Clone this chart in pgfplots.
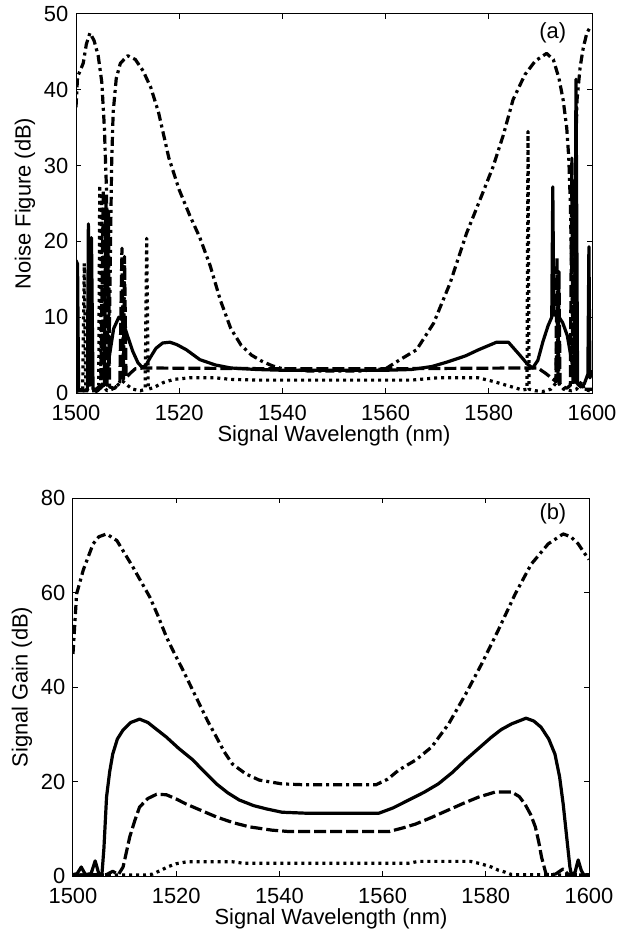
\documentclass[border=0pt,11pt]{standalone}
\usepackage{fontspec}
\setmainfont{Liberation Sans}
\usepackage{pgfplots}
\pgfplotsset{compat=1.18}

\pgfplotsset{
  mfig/.style={
    scale only axis, width=258pt,
    xmin=1500, xmax=1600, xtick={1500,1520,...,1600},
    tick align=inside, major tick length=2.5pt,
    axis line style={line width=0.5pt},
    every tick/.style={black, line width=0.5pt},
    /pgf/number format/assume math mode=true,
    xticklabel style={/pgf/number format/1000 sep={}, inner sep=0pt, yshift=-6pt},
    yticklabel style={inner sep=0pt, xshift=-3.7pt},
    xlabel={Signal Wavelength (nm)},
    xlabel style={at={(axis description cs:0.5,0)}, anchor=base, inner sep=0pt, yshift=-24pt},
    ylabel style={at={(axis description cs:-0.099,0.5)}, anchor=center},
    every axis plot/.append style={black, line width=1.6pt, line join=round},
  },
  sol/.style={solid},
  dsh/.style={dash pattern=on 6pt off 2pt},
  dot/.style={dash pattern=on 1.5pt off 2pt},
  dd/.style={dash pattern=on 4.5pt off 2pt on 1.5pt off 2pt},
}

\begin{document}
\begin{tikzpicture}
\useasboundingbox (0,0) rectangle (313.5pt,-465pt);

% (a) noise figure
\begin{axis}[mfig, at={(38pt,-196.5pt)}, anchor=south west, height=189.5pt,
  ymin=0, ymax=50, ytick={0,10,...,50}, ylabel={Noise Figure (dB)}]
\addplot[sol] coordinates {
(1500.0,17.5) (1500.3,17.0) (1500.5,0.5) (1501.5,0.3) (1502.2,0.5) (1502.4,22.3)
(1502.7,1.0) (1503.0,20.5) (1503.3,0.5) (1504.0,0.2) (1505.0,0.8) (1505.8,1.5)
(1506.5,5.0) (1507.3,8.5) (1508.3,10.0) (1509.0,9.6) (1510.0,7.5) (1511.0,5.5)
(1512.0,4.0) (1512.8,3.4) (1513.5,3.6) (1514.5,4.8) (1515.5,5.9) (1516.8,6.6)
(1518.2,6.7) (1519.5,6.4) (1521.4,5.7) (1524,4.4) (1527,3.7) (1530,3.3)
(1535,3.1) (1540,3.0) (1560,3.0) (1565,3.1) (1569,3.5) (1572,4.1) (1575.5,4.9)
(1578,5.7) (1581.5,6.7) (1583.8,6.7) (1586,5.0) (1587.5,3.8) (1588.5,3.3)
(1589.5,4.3) (1590.5,6.8) (1591.5,8.9) (1592.2,10.0) (1592.4,27.2) (1592.6,10.3)
(1593.3,10.3) (1594.3,9.3) (1595.2,7.6) (1596,4.5) (1596.6,2.0) (1596.9,41.4)
(1597.2,1.5) (1597.8,0.8) (1598.5,1.2) (1599.2,2.5) (1599.4,19.3) (1599.6,2.0)
(1600,3.0)};
\addplot[dsh] coordinates {
(1500,0.3) (1503.5,0.3) (1504.8,1.0) (1505.3,26.8) (1505.5,1.0) (1505.8,25.5)
(1506.0,1.0) (1506.3,24.0) (1506.5,0.8) (1507.5,0.6) (1508.5,1.5) (1508.9,19.1)
(1509.2,1.8) (1509.4,18.0) (1509.7,2.0) (1510.5,2.6) (1511.5,3.2) (1513,3.3)
(1540,3.2) (1560,3.2) (1586,3.3) (1589.5,3.3) (1591,2.6) (1592.5,1.8) (1593.0,1.5)
(1593.2,17.8) (1593.4,1.4) (1593.6,16.0) (1593.8,1.2) (1595,0.6) (1595.8,1.0)
(1596.1,31.0) (1596.3,1.0) (1596.6,28.0) (1596.8,1.5) (1597.5,1.0) (1598.5,0.5)
(1600,0.5)};
\addplot[dot] coordinates {
(1500,0.2) (1501.3,0.5) (1501.6,17.1) (1501.9,0.5) (1502.5,0.3) (1503.5,0.5)
(1504.4,1.0) (1504.6,27.4) (1504.8,1.0) (1505.0,26.0) (1505.2,1.0) (1506,0.3)
(1507,0.5) (1508,1.0) (1509,1.6) (1510,1.0) (1511,0.5) (1512.5,0.3) (1513.4,0.5)
(1513.7,20.4) (1514.0,0.5) (1515,0.7) (1517,1.4) (1519,1.8) (1522,2.0) (1527,2.0)
(1530,1.8) (1535,1.7) (1565,1.7) (1570,2.0) (1578,2.0) (1581,1.5) (1584,0.9)
(1586.5,0.4) (1587.4,0.5) (1587.6,34.5) (1587.8,0.5) (1589,0.3) (1590.5,0.2)
(1592,0.5) (1593,1.3) (1593.4,15.0) (1593.6,1.2) (1594.5,0.5) (1596,0.3)
(1597,0.5) (1598,1.5) (1598.5,0.5) (1600,0.2)};
\addplot[dd] coordinates {
(1500,37.7) (1500.3,41.7) (1501.4,43.5) (1502,46.0) (1502.7,47.5) (1503.5,46.5)
(1504.3,44.5) (1505.0,41.0) (1505.5,35.0) (1505.9,27.0) (1506.2,12.0) (1506.4,3.0)
(1506.6,15.0) (1506.9,30.0) (1507.2,37.0) (1507.8,41.5) (1508.6,43.5) (1510,44.5)
(1511.5,44.0) (1513,42.5) (1514.5,40.3) (1516,37.0) (1518,31.0) (1520,26.8)
(1522,23.5) (1524,20.5) (1526,16.8) (1528,12.2) (1530,8.5) (1532,6.3) (1534,5.0)
(1536,4.2) (1538,3.6) (1540,3.2) (1545,2.9) (1555,2.9) (1560,3.2) (1562.8,4.4)
(1566,5.7) (1569.3,9.2) (1572.5,14.5) (1575.7,21.1) (1578.3,25.5) (1580.8,29.8)
(1582.8,34.0) (1584.7,38.7) (1587,42.0) (1589,43.8) (1591.2,44.8) (1592.5,44.0)
(1593.6,41.5) (1594.4,38.7) (1595.1,35.0) (1595.5,31.0) (1595.8,25.0) (1596.1,15.0)
(1596.3,4.0) (1596.5,2.5) (1596.7,20.0) (1596.9,33.0) (1597.1,38.7) (1597.7,43.0)
(1598.3,45.5) (1599,47.5) (1599.6,48.2) (1600,48.3)};
\node at (axis cs:1592.4,47.5) {(a)};
\end{axis}

% (b) signal gain
\begin{axis}[mfig, at={(36.5pt,-438pt)}, anchor=south west, height=189pt,
  ymin=0, ymax=80, ytick={0,20,...,80}, ylabel={Signal Gain (dB)}]
\addplot[sol] coordinates {
(1500,0.3) (1500.8,0.5) (1501.6,1.9) (1502.4,0.3) (1503.5,0.5) (1504.3,3.2)
(1505.0,0.5) (1505.6,0.2) (1506.0,6.0) (1506.5,16.7) (1507.1,22.0) (1507.7,25.8)
(1508.6,29.0) (1509.7,30.9) (1511.2,32.5) (1512.9,33.2) (1514.5,32.5) (1516,31.2)
(1518.1,29.4) (1520.5,27.0) (1523.2,24.6) (1525.5,22.0) (1527.8,19.5) (1530,17.6)
(1532.2,16.1) (1535,14.9) (1537.5,14.2) (1540.5,13.5) (1545,13.3) (1559.3,13.3)
(1562,14.4) (1565.1,16.1) (1568,17.7) (1570.8,19.5) (1573.5,21.9) (1576.1,24.6)
(1578.6,27.0) (1581.1,29.4) (1583,31.0) (1585,32.2) (1587.8,33.4) (1589.3,32.8)
(1590.7,31.5) (1592.2,29.0) (1593.4,25.8) (1594.3,21.0) (1595,15.2) (1595.7,8.0)
(1596.3,1.9) (1596.6,0.2) (1597.3,0.8) (1597.9,3.4) (1598.5,1.2) (1599,0.2)
(1600,0.3)};
\addplot[dsh] coordinates {
(1500,0.2) (1506.5,0.3) (1507.7,1.0) (1508.8,0.3) (1509.7,1.9) (1510.3,4.8)
(1511,8.3) (1512,11.8) (1512.9,14.6) (1514.5,16.4) (1516.2,17.3) (1518.1,17.2)
(1520,16.3) (1522,15.2) (1525,13.8) (1527.8,12.5) (1531,11.3) (1534.2,10.4)
(1538.6,9.7) (1542,9.4) (1561.2,9.4) (1564,10.2) (1566.4,11.0) (1569.5,12.4)
(1572.8,14.0) (1575.7,15.4) (1578.6,16.7) (1581.9,17.8) (1585,17.8) (1586.5,16.8)
(1587.6,15.2) (1588.7,13.0) (1589.6,10.4) (1590.3,7.0) (1590.8,4.0) (1591.7,0.3)
(1593.5,0.4) (1595,1.5) (1596,0.3) (1600,0.2)};
\addplot[dot] coordinates {
(1500,0.2) (1514,0.2) (1515.4,0.4) (1517,1.2) (1518.5,2.0) (1520,2.6) (1522,3.0)
(1531,3.0) (1533,2.7) (1565,2.7) (1567,3.1) (1577,3.1) (1579,2.6) (1581.1,1.9)
(1582.5,1.2) (1583.8,0.8) (1585,0.3) (1600,0.2)};
\addplot[dd] coordinates {
(1500,47.0) (1500.7,59.7) (1502,64.8) (1503.9,70.3) (1505,71.8) (1506.5,72.4)
(1508.5,71.0) (1510,68.3) (1511.6,65.4) (1513.2,62.3) (1514.9,59.0) (1516.5,55.0)
(1518.1,50.6) (1519.7,47.0) (1521.3,43.6) (1522.9,40.0) (1524.5,36.4) (1526.1,32.8)
(1527.8,29.4) (1529.3,26.3) (1530.9,23.7) (1533.5,21.6) (1536.1,20.3) (1540.5,19.5)
(1545,19.3) (1558.7,19.3) (1561,20.5) (1563.1,22.4) (1566.5,24.6) (1569.5,27.3)
(1572.8,32.2) (1576.1,38.5) (1579.2,44.9) (1582.4,52.0) (1585.7,59.7) (1588.8,66.0)
(1592.1,70.3) (1595,72.4) (1596.5,71.8) (1597.9,70.3) (1599,68.5) (1600,67.0)};
\node at (axis cs:1593,76.6) {(b)};
\end{axis}
\end{tikzpicture}
\end{document}
